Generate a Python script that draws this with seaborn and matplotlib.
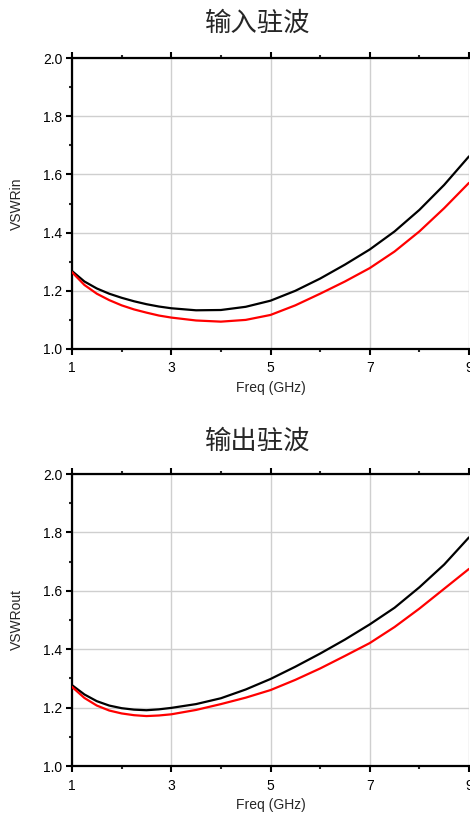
import numpy as np
import pandas as pd
import matplotlib.pyplot as plt
import seaborn as sns

# Values (Freq in GHz)
freq = [1, 1.25, 1.5, 1.75, 2, 2.25, 2.5, 2.75, 3, 3.5, 4, 4.5, 5,
        5.5, 6, 6.5, 7, 7.5, 8, 8.5, 9]

vswr_in_black = [1.268, 1.232, 1.208, 1.190, 1.176, 1.164, 1.154, 1.146, 1.140,
                 1.133, 1.134, 1.145, 1.166, 1.200, 1.242, 1.290, 1.342,
                 1.404, 1.478, 1.564, 1.662]
vswr_in_red = [1.264, 1.220, 1.190, 1.168, 1.150, 1.136, 1.125, 1.115, 1.108,
               1.098, 1.094, 1.100, 1.117, 1.150, 1.190, 1.232, 1.278,
               1.335, 1.404, 1.484, 1.571]

vswr_out_black = [1.277, 1.245, 1.222, 1.207, 1.198, 1.193, 1.191, 1.194, 1.199,
                  1.212, 1.232, 1.262, 1.298, 1.340, 1.385, 1.433, 1.485,
                  1.542, 1.612, 1.690, 1.783]
vswr_out_red = [1.271, 1.233, 1.207, 1.190, 1.180, 1.174, 1.171, 1.173, 1.177,
                1.192, 1.212, 1.234, 1.260, 1.295, 1.334, 1.377, 1.421,
                1.476, 1.539, 1.607, 1.675]

titles = ["输入驻波", "输出驻波"]
ylabels = ["VSWRin", "VSWRout"]

sns.set_style("ticks")
plt.rcParams['font.family'] = ['Liberation Sans', 'DejaVu Sans']
plt.rcParams['lines.solid_joinstyle'] = 'round'

fig = plt.figure(figsize=(4.70, 8.14), dpi=100)

panels = [
    (vswr_in_black, vswr_in_red, [72/470, 1 - 349/814, 397/470, 291/814], 1 - 23/814),
    (vswr_out_black, vswr_out_red, [72/470, 1 - 766/814, 397/470, 292/814], 1 - 441/814),
]

for i, (blk, red, pos, ty) in enumerate(panels):
    ax = fig.add_axes(pos)
    df = pd.DataFrame({"freq": freq * 2,
                       "vswr": blk + red,
                       "trace": ["a"] * len(freq) + ["b"] * len(freq)})
    sns.lineplot(data=df, x="freq", y="vswr", hue="trace",
                 palette={"a": "black", "b": "#ff0000"}, linewidth=1.6,
                 legend=False, ax=ax, zorder=3)
    ax.set_xlim(1, 9)
    ax.set_ylim(1.0, 2.0)
    ax.set_xticks([1, 3, 5, 7, 9])
    ax.set_xticks([2, 4, 6, 8], minor=True)
    ax.set_yticks([1.0, 1.2, 1.4, 1.6, 1.8, 2.0])
    ax.set_yticks([1.1, 1.3, 1.5, 1.7, 1.9], minor=True)
    ax.set_yticklabels([f"{v:.1f}" for v in [1.0, 1.2, 1.4, 1.6, 1.8, 2.0]])
    ax.grid(True, which="major", color="#cfcfcf", linewidth=1.0, zorder=0)
    ax.tick_params(which="major", direction="out", length=4, width=1.5,
                   labelsize=10, colors="black", pad=3)
    ax.tick_params(axis="x", which="major", pad=5)
    ax.tick_params(which="minor", direction="out", length=2.5, width=1.5)
    ax.tick_params(which="both", top=True, right=False)
    for side in ["left", "bottom", "top"]:
        ax.spines[side].set_linewidth(1.6)
        ax.spines[side].set_color("black")
    ax.spines["right"].set_visible(False)
    ax.set_xlabel("Freq (GHz)", fontsize=10, labelpad=4)
    ax.set_ylabel(ylabels[i], fontsize=10, labelpad=14)
    fig.text(258/470, ty, titles[i], ha="center", va="center", fontsize=19,
             family=['Noto Sans CJK SC', 'DejaVu Sans'], fontweight="light")

fig.savefig("out.png", dpi=100)
